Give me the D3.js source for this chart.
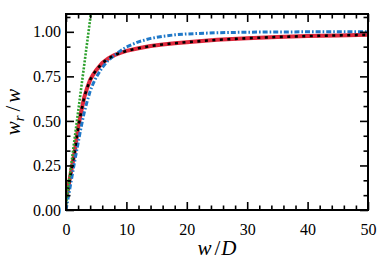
<!DOCTYPE html>
<html><head><meta charset="utf-8">
<script src="https://cdn.jsdelivr.net/npm/d3@7"></script>
<style>
html,body{margin:0;padding:0;background:#fff;}
svg{display:block;}
text{font-family:"Liberation Serif","DejaVu Serif",serif;}
</style></head>
<body>
<script>
// ---- data ----
const blackX = [0.1,0.5,1,1.5,2,2.5,3,3.5,4,4.5,5,6,7,8,9,10,12,14,16,18,20,25,30,35,40,45,50];
const blackY = [0.07,0.15,0.245,0.34,0.46,0.55,0.63,0.685,0.73,0.76,0.785,0.825,0.85,0.869,0.882,0.893,0.908,0.92,0.929,0.936,0.942,0.955,0.964,0.971,0.976,0.98,0.983];
const redX = [0.1,0.5,1,1.5,2,2.5,3,3.5,4,4.5,5,6,7,8,9,10,12,14,16,18,20,25,30,35,40,45,50];
const redY = [0.07,0.15,0.245,0.34,0.46,0.55,0.63,0.685,0.73,0.76,0.785,0.825,0.85,0.869,0.882,0.893,0.908,0.92,0.929,0.936,0.942,0.955,0.964,0.971,0.976,0.98,0.983];
const blueX = [0,0.5,1,1.5,2,2.5,3,3.5,4,4.5,5,6,7,8,9,10,12,14,16,18,20,25,30,40,50];
const blueY = [0.0,0.095,0.19,0.285,0.375,0.465,0.545,0.61,0.667,0.71,0.745,0.8,0.84,0.868,0.893,0.915,0.944,0.963,0.975,0.983,0.988,0.995,0.998,1.0,1.0];
const greenX = [0,5];
const greenY = [0.03,1.33];
const xMajorTicks = [0,10,20,30,40,50];
const xMinorTicks = [2,4,6,8,12,14,16,18,22,24,26,28,32,34,36,38,42,44,46,48];
const yMajorTicks = [0.00,0.25,0.50,0.75,1.00];
const yMinorTicks = [0.0833,0.1667,0.3333,0.4167,0.5833,0.6667,0.8333,0.9167,1.0833];
const xDomain = [0,50];
const yDomain = [0,1.1];

// ---- layout ----
const W = 382, H = 273;
const L = 66, R = 368, T = 14, B = 210;
const svg = d3.select("body").append("svg").attr("width",W).attr("height",H);
const x = d3.scaleLinear().domain(xDomain).range([L,R]);
const y = d3.scaleLinear().domain(yDomain).range([B,T]);

svg.append("defs").append("clipPath").attr("id","clip")
  .append("rect").attr("x",L).attr("y",T).attr("width",R-L).attr("height",B-T);

const line = d3.line().x(d=>x(d[0])).y(d=>y(d[1]));
const plot = svg.append("g").attr("clip-path","url(#clip)");
function series(xs, ys, color, width, dash){
  plot.append("path").datum(xs.map((v,i)=>[v,ys[i]]))
    .attr("d",line).attr("fill","none").attr("stroke",color)
    .attr("stroke-width",width).attr("stroke-dasharray",dash||null);
}
series(redX, redY, "#e0283c", 4);
series(blueX, blueY, "#1f78c8", 3, "5,2,1.6,2");
series(blackX, blackY, "#000", 2.6, "3,4.5");
series(greenX, greenY, "#2ca02c", 2.6, "2,1.5");

// ---- axes ----
const MAJ = 8, MIN = 4.5;
function styleAxis(g){
  g.select(".domain").remove();
  g.selectAll(".tick line").attr("stroke","#000").attr("stroke-width",1.6);
  g.selectAll(".tick text").attr("font-size","16px").attr("fill","#000")
    .attr("font-family",'"Liberation Serif","DejaVu Serif",serif');
}
svg.append("g").attr("transform",`translate(0,${B})`)
  .call(d3.axisBottom(x).tickValues(xMajorTicks).tickSize(-MAJ).tickPadding(MAJ+6).tickFormat(d3.format("d"))).call(styleAxis);
svg.append("g").attr("transform",`translate(0,${B})`)
  .call(d3.axisBottom(x).tickValues(xMinorTicks).tickSize(-MIN).tickFormat("")).call(styleAxis);
svg.append("g").attr("transform",`translate(0,${T})`)
  .call(d3.axisTop(x).tickValues(xMajorTicks).tickSize(-MAJ).tickFormat("")).call(styleAxis);
svg.append("g").attr("transform",`translate(0,${T})`)
  .call(d3.axisTop(x).tickValues(xMinorTicks).tickSize(-MIN).tickFormat("")).call(styleAxis);
svg.append("g").attr("transform",`translate(${L},0)`)
  .call(d3.axisLeft(y).tickValues(yMajorTicks).tickSize(-MAJ).tickPadding(5).tickFormat(d3.format(".2f"))).call(styleAxis);
svg.append("g").attr("transform",`translate(${L},0)`)
  .call(d3.axisLeft(y).tickValues(yMinorTicks).tickSize(-MIN).tickFormat("")).call(styleAxis);
svg.append("g").attr("transform",`translate(${R},0)`)
  .call(d3.axisRight(y).tickValues(yMajorTicks).tickSize(-MAJ).tickFormat("")).call(styleAxis);
svg.append("g").attr("transform",`translate(${R},0)`)
  .call(d3.axisRight(y).tickValues(yMinorTicks).tickSize(-MIN).tickFormat("")).call(styleAxis);

svg.append("rect").attr("x",L).attr("y",T).attr("width",R-L).attr("height",B-T)
  .attr("fill","none").attr("stroke","#000").attr("stroke-width",2);

// ---- labels ----
const xl = svg.append("text").attr("x",(L+R)/2).attr("y",255).attr("text-anchor","middle")
  .attr("font-size","21px").attr("font-style","italic");
xl.append("tspan").text("w");
xl.append("tspan").attr("dx","3").attr("font-style","normal").text("/");
xl.append("tspan").attr("dx","1").text("D");

const yl = svg.append("text").attr("transform",`translate(20,${(T+B)/2}) rotate(-90)`)
  .attr("text-anchor","middle").attr("font-size","21px").attr("font-style","italic");
yl.append("tspan").text("w");
yl.append("tspan").attr("font-size","15px").attr("dy","4").text("r");
yl.append("tspan").attr("dy","-4").attr("dx","4").attr("font-style","normal").text("/");
yl.append("tspan").attr("dx","3").text("w");
</script>
</body></html>
